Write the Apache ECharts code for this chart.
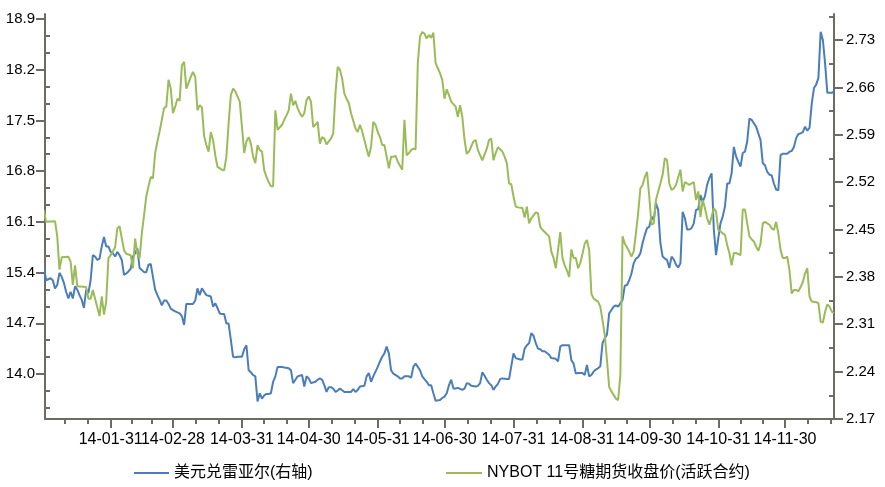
<!DOCTYPE html>
<html><head><meta charset="utf-8">
<script src="https://cdn.jsdelivr.net/npm/echarts@6/dist/echarts.min.js"></script>
<style>html,body{margin:0;padding:0;background:#fff}#c{width:885px;height:487px}</style>
</head><body><div id="c"></div>
<script>
const YEAR = 2014;
const seriesNames = ['美元兑雷亚尔(右轴)', 'NYBOT 11号糖期货收盘价(活跃合约)'];
const monthEnds = ['01-31','02-28','03-31','04-30','05-31','06-30','07-31','08-31','09-30','10-31','11-30'];
const leftLabels = [14.0,14.7,15.4,16.1,16.8,17.5,18.2,18.9];
const rightLabels = [2.17,2.24,2.31,2.38,2.45,2.52,2.59,2.66,2.73];

const brlDates = ['01-01','01-02','01-04','01-05','01-06','01-07','01-08','01-09','01-10','01-11','01-12','01-13','01-14','01-15','01-16','01-17','01-18','01-19','01-20','01-21','01-22','01-23','01-24','01-25','01-26','01-27','01-28','01-29','01-30','01-31',
'02-01','02-02','02-03','02-04','02-05','02-06','02-07','02-08','02-09','02-10','02-11','02-12','02-13','02-14','02-15','02-16','02-17','02-18','02-19','02-20','02-21','02-22','02-23','02-24','02-25','02-26','02-27','02-28',
'03-01','03-03','03-04','03-05','03-06','03-07','03-09','03-10','03-11','03-12','03-13','03-14','03-15','03-16','03-17','03-18','03-19','03-20','03-21','03-22','03-23','03-24','03-25','03-26','03-27','03-28','03-29','03-31',
'04-01','04-02','04-03','04-04','04-05','04-06','04-07','04-08','04-09','04-10','04-11','04-12','04-13','04-14','04-15','04-16','04-18','04-19','04-21','04-22','04-23','04-24','04-25','04-27','04-28','04-29','04-30',
'05-01','05-03','05-04','05-05','05-06','05-07','05-08','05-09','05-10','05-11','05-12','05-13','05-14','05-16','05-19','05-20','05-21','05-22','05-23','05-25','05-26','05-27','05-28','05-29','05-30','05-31',
'06-01','06-02','06-03','06-04','06-05','06-06','06-07','06-09','06-10','06-11','06-12','06-14','06-15','06-16','06-17','06-18','06-19','06-20','06-22','06-23','06-24','06-25','06-26','06-28','06-29','06-30',
'07-01','07-02','07-03','07-04','07-05','07-06','07-08','07-09','07-10','07-11','07-12','07-14','07-15','07-16','07-17','07-18','07-19','07-20','07-21','07-22','07-23','07-24','07-25','07-26','07-28','07-29','07-31',
'08-01','08-03','08-04','08-05','08-06','08-07','08-08','08-09','08-10','08-11','08-12','08-13','08-14','08-16','08-17','08-19','08-20','08-21','08-22','08-24','08-25','08-26','08-27','08-28','08-29','08-31',
'09-01','09-02','09-03','09-04','09-05','09-06','09-07','09-08','09-09','09-10','09-11','09-12','09-13','09-14','09-15','09-16','09-17','09-18','09-19','09-20','09-21','09-22','09-23','09-24','09-25','09-26','09-27','09-28','09-29','09-30',
'10-01','10-02','10-03','10-04','10-05','10-06','10-07','10-08','10-09','10-10','10-11','10-12','10-13','10-14','10-15','10-16','10-17','10-18','10-19','10-20','10-21','10-22','10-23','10-24','10-25','10-26','10-27','10-28','10-29','10-30','10-31',
'11-01','11-02','11-03','11-04','11-05','11-06','11-07','11-08','11-09','11-10','11-11','11-12','11-13','11-14','11-15','11-16','11-17','11-18','11-19','11-20','11-21','11-22','11-23','11-24','11-25','11-26','11-27','11-28','11-29',
'12-01','12-02','12-03','12-04','12-05','12-06','12-07','12-08','12-09','12-10','12-11','12-12','12-13','12-14','12-15','12-16','12-17','12-18','12-19','12-21','12-22'];
const brlValues = [2.395,2.375,2.378,2.375,2.363,2.368,2.386,2.380,2.371,2.358,2.348,2.358,2.348,2.366,2.361,2.353,2.346,2.334,2.361,2.356,2.375,2.412,2.410,2.405,2.407,2.425,2.439,2.425,2.425,2.417,
2.415,2.410,2.417,2.412,2.405,2.383,2.385,2.388,2.392,2.410,2.415,2.422,2.393,2.390,2.387,2.387,2.398,2.399,2.380,2.361,2.353,2.346,2.338,2.345,2.345,2.340,2.333,2.331,
2.329,2.326,2.322,2.309,2.340,2.340,2.340,2.345,2.363,2.353,2.363,2.358,2.353,2.352,2.351,2.336,2.341,2.334,2.326,2.325,2.325,2.311,2.311,2.287,2.262,2.261,2.262,2.262,
2.273,2.279,2.242,2.239,2.235,2.233,2.196,2.208,2.200,2.205,2.207,2.207,2.208,2.225,2.233,2.247,2.247,2.246,2.245,2.242,2.223,2.228,2.233,2.235,2.218,2.233,2.230,
2.223,2.225,2.228,2.230,2.228,2.220,2.210,2.217,2.217,2.215,2.210,2.212,2.215,2.210,2.210,2.214,2.210,2.213,2.218,2.219,2.233,2.238,2.225,2.233,2.240,2.247,
2.255,2.262,2.267,2.277,2.267,2.242,2.237,2.233,2.230,2.230,2.233,2.233,2.231,2.247,2.252,2.247,2.242,2.233,2.225,2.220,2.220,2.208,2.197,2.198,2.201,2.203,
2.208,2.220,2.228,2.215,2.215,2.216,2.213,2.215,2.223,2.222,2.219,2.218,2.219,2.223,2.239,2.234,2.228,2.223,2.220,2.213,2.218,2.222,2.229,2.230,2.229,2.229,2.267,
2.260,2.258,2.258,2.274,2.279,2.282,2.297,2.293,2.282,2.274,2.273,2.270,2.270,2.265,2.260,2.259,2.255,2.277,2.279,2.279,2.279,2.257,2.252,2.237,2.238,2.238,
2.235,2.250,2.233,2.235,2.240,2.243,2.245,2.248,2.282,2.289,2.295,2.326,2.331,2.336,2.338,2.336,2.341,2.346,2.367,2.368,2.375,2.385,2.400,2.407,2.409,2.415,2.430,2.442,2.452,2.454,
2.469,2.464,2.489,2.479,2.430,2.410,2.407,2.405,2.393,2.410,2.406,2.398,2.394,2.400,2.476,2.467,2.450,2.450,2.452,2.459,2.479,2.480,2.501,2.491,2.499,2.516,2.526,2.533,2.450,2.412,2.437,
2.459,2.469,2.484,2.518,2.518,2.533,2.572,2.558,2.550,2.543,2.563,2.565,2.580,2.614,2.612,2.607,2.602,2.592,2.582,2.548,2.545,2.535,2.531,2.530,2.518,2.509,2.508,2.560,2.562,
2.562,2.565,2.566,2.572,2.585,2.591,2.592,2.594,2.602,2.596,2.600,2.636,2.659,2.664,2.674,2.742,2.730,2.695,2.652,2.652,2.654];

const sugarDates = ['01-01','01-02','01-06','01-07','01-08','01-09','01-12','01-13','01-14','01-15','01-16','01-20','01-21','01-22','01-23','01-24','01-26','01-27','01-28','01-29','01-30','01-31',
'02-02','02-03','02-04','02-06','02-07','02-09','02-10','02-11','02-12','02-13','02-14','02-15','02-16','02-17','02-18','02-19','02-20','02-21','02-22','02-23','02-24','02-25','02-26','02-27','02-28',
'03-01','03-02','03-03','03-04','03-05','03-06','03-08','03-09','03-10','03-11','03-12','03-13','03-14','03-15','03-16','03-17','03-18','03-19','03-20','03-22','03-23','03-24','03-25','03-26','03-27','03-28','03-30','03-31',
'04-01','04-02','04-03','04-04','04-05','04-06','04-07','04-08','04-09','04-10','04-11','04-12','04-13','04-14','04-15','04-16','04-18','04-19','04-20','04-21','04-22','04-23','04-24','04-25','04-26','04-27','04-28','04-29','04-30',
'05-01','05-02','05-03','05-04','05-05','05-06','05-07','05-08','05-09','05-10','05-11','05-12','05-13','05-14','05-15','05-16','05-17','05-18','05-19','05-21','05-22','05-23','05-24','05-25','05-26','05-27','05-28','05-29','05-30','05-31',
'06-01','06-02','06-03','06-04','06-05','06-06','06-07','06-08','06-09','06-11','06-12','06-13','06-14','06-15','06-16','06-17','06-18','06-19','06-20','06-21','06-22','06-23','06-24','06-25','06-26','06-27','06-28','06-29','06-30',
'07-01','07-02','07-03','07-05','07-06','07-07','07-08','07-09','07-10','07-11','07-12','07-13','07-14','07-15','07-17','07-19','07-20','07-21','07-22','07-23','07-24','07-26','07-27','07-28','07-29','07-30','07-31',
'08-01','08-02','08-04','08-05','08-06','08-07','08-08','08-09','08-10','08-11','08-12','08-13','08-15','08-16','08-17','08-18','08-19','08-21','08-22','08-23','08-24','08-25','08-26','08-27','08-28','08-29','08-30','08-31',
'09-01','09-02','09-03','09-04','09-05','09-06','09-07','09-08','09-09','09-10','09-11','09-12','09-13','09-15','09-16','09-17','09-18','09-19','09-21','09-22','09-23','09-24','09-25','09-26','09-27','09-28','09-29','09-30',
'10-01','10-02','10-03','10-04','10-05','10-06','10-07','10-08','10-09','10-10','10-11','10-12','10-14','10-15','10-16','10-18','10-20','10-21','10-22','10-23','10-24','10-25','10-26','10-27','10-28','10-29','10-30','10-31',
'11-01','11-02','11-03','11-04','11-05','11-06','11-07','11-08','11-10','11-11','11-12','11-13','11-14','11-15','11-16','11-17','11-18','11-19','11-20','11-21','11-23','11-24','11-25','11-26','11-27','11-28','11-29','11-30',
'12-01','12-02','12-03','12-04','12-05','12-06','12-07','12-08','12-09','12-10','12-11','12-12','12-14','12-15','12-16','12-17','12-18','12-19','12-20','12-21','12-22'];
const sugarValues = [16.26,16.10,16.11,15.90,15.44,15.61,15.62,15.55,15.23,15.50,15.21,15.20,15.04,15.04,15.16,15.04,14.80,15.07,14.82,15.00,15.60,15.64,
15.75,16.01,16.04,15.71,15.66,15.64,15.46,15.87,15.66,15.60,15.94,16.19,16.45,16.59,16.72,16.70,17.05,17.21,17.35,17.51,17.67,17.69,18.06,17.94,17.60,
17.69,17.80,17.77,18.26,18.31,17.94,18.10,18.17,18.10,17.64,17.71,17.68,17.28,17.16,17.07,17.34,17.23,17.02,16.86,16.82,16.81,17.00,17.46,17.85,17.94,17.90,17.76,17.41,
17.05,17.21,17.27,17.18,17.00,16.91,17.16,17.09,17.07,16.81,16.72,16.65,16.59,16.59,17.64,17.37,17.44,17.51,17.57,17.64,17.87,17.71,17.77,17.67,17.60,17.55,17.60,17.78,17.83,
17.76,17.41,17.44,17.48,17.18,17.27,17.25,17.17,17.21,17.25,17.32,17.87,18.24,18.20,18.08,17.87,17.80,17.74,17.60,17.39,17.34,17.44,17.35,17.23,17.11,17.00,17.14,17.48,17.44,17.34,
17.27,17.16,17.16,17.00,16.84,17.00,17.00,17.01,16.93,16.82,17.51,17.02,17.05,17.09,17.11,17.10,18.29,18.66,18.72,18.70,18.63,18.68,18.64,18.71,18.29,18.22,18.15,18.06,17.80,
17.93,17.85,17.76,17.69,17.55,17.71,17.55,17.23,17.04,17.07,17.14,17.21,17.23,17.09,16.95,17.11,17.23,17.25,16.95,17.05,17.13,17.07,17.00,16.91,16.63,16.62,16.45,
16.31,16.30,16.29,16.16,16.31,16.08,16.15,16.19,16.23,16.22,16.03,15.99,15.93,15.90,15.69,15.60,15.46,15.96,15.60,15.50,15.43,15.34,15.72,15.60,15.60,15.46,15.53,15.66,
15.80,15.85,15.71,15.11,15.04,15.02,15.00,14.93,14.74,14.54,14.19,13.82,13.76,13.66,13.64,13.98,15.90,15.80,15.69,15.62,15.69,15.94,16.22,16.56,16.61,16.72,16.79,16.45,
16.06,16.08,16.40,16.52,16.63,16.75,16.98,16.95,16.63,16.54,16.56,16.61,16.82,16.52,16.65,16.61,16.65,16.40,16.52,16.17,16.40,16.29,16.15,16.06,16.17,16.29,16.24,15.99,
15.97,15.94,15.92,15.78,15.67,15.50,15.67,15.67,15.64,16.27,16.27,16.08,15.90,15.86,15.83,15.76,15.70,15.80,16.08,16.10,16.06,16.01,15.99,16.10,15.94,15.71,15.60,15.60,
15.62,15.43,15.11,15.16,15.16,15.14,15.20,15.27,15.39,15.46,15.07,15.00,14.99,14.98,14.72,14.71,14.86,14.96,14.93,14.86,14.84];

function ts(md) { const p = md.split('-').map(Number); return Date.UTC(YEAR, p[0] - 1, p[1]); }
const pad = n => (n < 10 ? '0' : '') + n;
const xMin = Date.UTC(YEAR, 0, 1, 12), xMax = Date.UTC(YEAR, 11, 22);
const majorX = monthEnds.map(ts);
const labelsOdd = majorX.filter((v, i) => i % 2 === 0);
const labelsEven = majorX.filter((v, i) => i % 2 === 1);
const bounds = [Date.UTC(YEAR - 1, 11, 31)].concat(majorX, [Date.UTC(YEAR, 11, 31)]);
const minorX = [];
for (let i = 0; i < bounds.length - 1; i++) {
  const a = bounds[i], b = bounds[i + 1];
  [a + (b - a) / 3, a + 2 * (b - a) / 3].forEach(v => { if (v > xMin && v < xMax) minorX.push(v); });
}
const lMin = 13.379, lMax = 18.969, rMin = 2.17, rMax = 2.7684;
const leftMinor = [], rightMinor = [];
for (let k = -1; k < 26; k++) { if (k % 3 === 0) continue; const v = 13.3 + k * 0.7 / 3; if (v > lMin && v < lMax) leftMinor.push(v); }
for (let k = 0; k < 20; k++) { const v = 2.17 + 0.035 * (2 * k + 1); if (v <= rMax + 1e-9) rightMinor.push(v); }

const axisColor = '#6e6b65';
const font = "'Liberation Sans', 'Noto Sans CJK SC', sans-serif";
const lineAxis = { show: true, lineStyle: { color: axisColor, width: 2 } };
const baseY = { type: 'value', splitLine: { show: false }, axisPointer: { show: false } };
const legendBase = { icon: 'rect', itemHeight: 2, itemGap: 0, top: 465, padding: 0,
  textStyle: { fontSize: 16, color: '#000', fontFamily: font } };
const dateFmt = v => { const d = new Date(v); return String(d.getUTCFullYear()).slice(2) + '-' + pad(d.getUTCMonth() + 1) + '-' + pad(d.getUTCDate()); };
const xLabelStyle = { margin: 13, fontSize: 16, color: '#000', fontFamily: font, hideOverlap: false, formatter: dateFmt };

const chart = echarts.init(document.getElementById('c'));
chart.setOption({
  animation: false,
  backgroundColor: '#fff',
  grid: { left: 45, right: 51, top: 14, bottom: 68, containLabel: false },
  legend: [
    Object.assign({ data: [seriesNames[0]], left: 134, itemWidth: 35 }, legendBase),
    Object.assign({ data: [seriesNames[1]], left: 446, itemWidth: 36 }, legendBase)
  ],
  xAxis: [
    { type: 'value', min: xMin, max: xMax, position: 'bottom', splitLine: { show: false },
      axisLine: lineAxis,
      axisTick: { show: true, customValues: majorX, length: 9, lineStyle: { color: axisColor, width: 2 } },
      axisLabel: Object.assign({ show: true, customValues: labelsOdd }, xLabelStyle) },
    { type: 'value', min: xMin, max: xMax, position: 'bottom', splitLine: { show: false },
      axisLine: { show: false },
      axisTick: { show: true, customValues: minorX, length: 5, lineStyle: { color: axisColor, width: 2 } },
      axisLabel: { show: false } },
    { type: 'value', min: xMin, max: xMax, position: 'bottom', splitLine: { show: false },
      axisLine: { show: false }, axisTick: { show: false },
      axisLabel: Object.assign({ show: true, customValues: labelsEven }, xLabelStyle) }
  ],
  yAxis: [
    Object.assign({}, baseY, { position: 'left', min: lMin, max: lMax, axisLine: lineAxis,
      axisTick: { show: true, customValues: leftLabels, length: 9, lineStyle: { color: axisColor, width: 2 } },
      axisLabel: { customValues: leftLabels, margin: 10, fontSize: 15, color: '#000', fontFamily: font, formatter: v => v.toFixed(1) } }),
    Object.assign({}, baseY, { position: 'left', min: lMin, max: lMax, axisLine: { show: false },
      axisTick: { show: true, inside: true, customValues: leftMinor, length: 5, lineStyle: { color: axisColor, width: 2 } },
      axisLabel: { show: false } }),
    Object.assign({}, baseY, { position: 'right', min: rMin, max: rMax, axisLine: lineAxis,
      axisTick: { show: true, customValues: rightLabels, length: 9, lineStyle: { color: axisColor, width: 2 } },
      axisLabel: { customValues: rightLabels, margin: 12, fontSize: 15, color: '#000', fontFamily: font, formatter: v => v.toFixed(2) } }),
    Object.assign({}, baseY, { position: 'right', min: rMin, max: rMax, axisLine: { show: false },
      axisTick: { show: true, inside: true, customValues: rightMinor, length: 5, lineStyle: { color: axisColor, width: 2 } },
      axisLabel: { show: false } })
  ],
  series: [
    { name: seriesNames[0], type: 'line', xAxisIndex: 0, yAxisIndex: 2, symbol: 'none',
      data: brlDates.map((d, i) => [ts(d), brlValues[i]]),
      lineStyle: { color: '#4a7ebb', width: 2 }, itemStyle: { color: '#4a7ebb' } },
    { name: seriesNames[1], type: 'line', xAxisIndex: 0, yAxisIndex: 0, symbol: 'none',
      data: sugarDates.map((d, i) => [ts(d), sugarValues[i]]),
      lineStyle: { color: '#9bbb59', width: 2 }, itemStyle: { color: '#9bbb59' } }
  ]
});
</script></body></html>
